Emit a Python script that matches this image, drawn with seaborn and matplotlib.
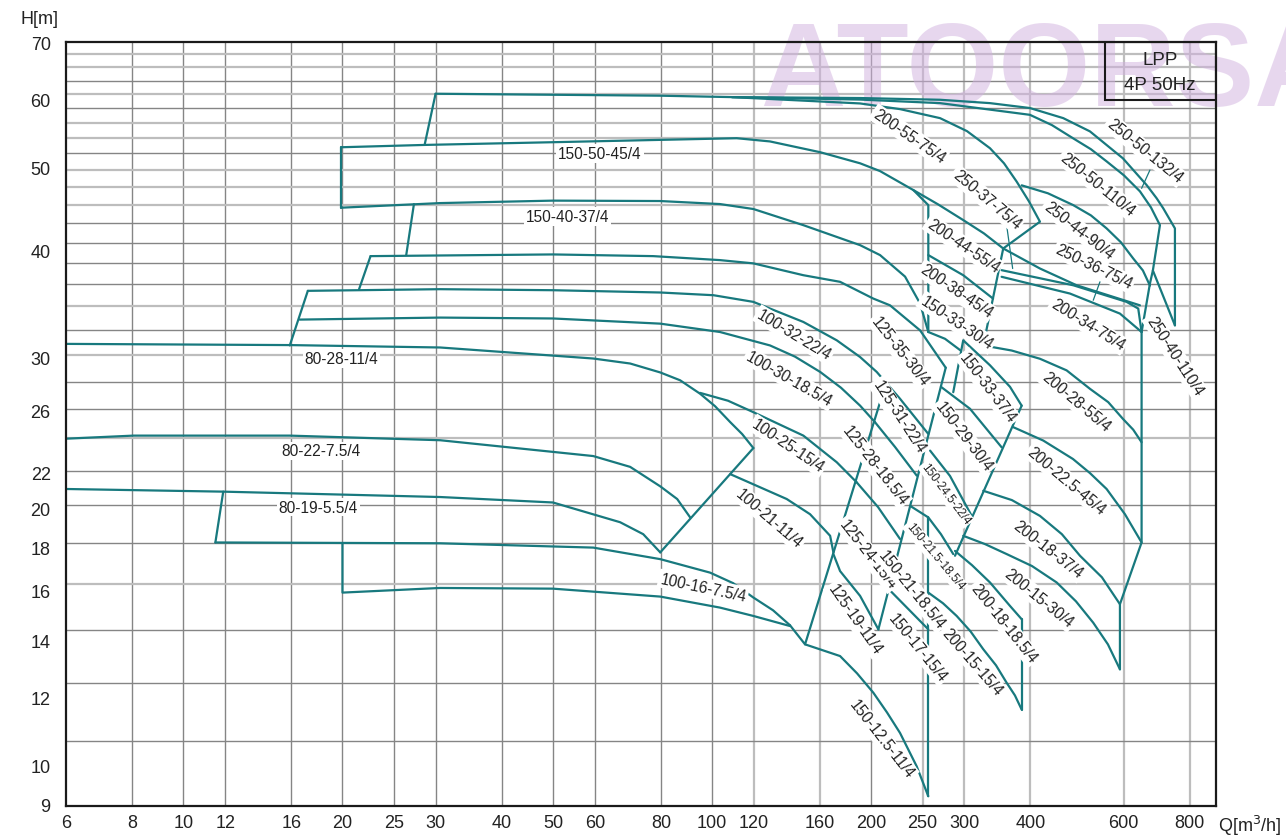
import matplotlib
matplotlib.use("Agg")
import matplotlib.pyplot as plt
import pandas as pd
import seaborn as sns
from matplotlib.patches import Rectangle
from matplotlib.ticker import NullLocator

sns.set_theme(style="white")
plt.rcParams['font.family'] = ['Liberation Sans', 'DejaVu Sans']

TEAL = "#18797e"

# ---------------- axes ----------------
x_ticks = [6, 8, 10, 12, 16, 20, 25, 30, 40, 50, 60, 80, 100, 120, 160, 200, 250, 300, 400, 600, 800]
y_ticks = [9, 10, 12, 14, 16, 18, 20, 22, 26, 30, 40, 50, 60, 70]
x_grid_light = [120, 160, 250, 300, 400, 600, 800]
h_grid_dark = [63.1, 58.6, 51.9, 43.0, 40.8, 38.7, 36.5, 32.3, 28.1, 26.1, 22.1, 20.15, 18.2, 14.4, 12.5, 10.7]
h_grid_light = [67.8, 65.5, 60.95, 56.3, 54.1, 49.65, 47.4, 45.2, 34.4, 30.2, 24.15, 16.3]

# ---------------- 80 / 100 series ----------------
q_80_28 = [6.0, 15.9, 30.6, 59.6, 70.0, 79.8, 87.0, 94.9, 101.3, 108.2, 114.0, 119.7]
h_80_28 = [31.1, 31.0, 30.8, 29.9, 29.5, 28.8, 28.2, 27.2, 26.3, 25.2, 24.4, 23.5]
q_80_22 = [6.0, 8.05, 15.9, 30.6, 59.6, 70.0, 79.8, 85.9, 90.9]
h_80_22 = [24.1, 24.3, 24.3, 24.0, 23.0, 22.34, 21.2, 20.49, 19.5]
q_80_19 = [6.0, 11.9, 30.6, 50.0, 67.0, 74.1, 79.8]
h_80_19 = [21.05, 20.9, 20.6, 20.3, 19.25, 18.64, 17.75]
q_80_limit = [119.7, 79.8]
h_80_limit = [23.5, 17.75]
q_80_19_min = [11.9, 11.5]
h_80_19_min = [20.9, 18.23]

q_100_16_max = [11.5, 30.6, 59.6, 79.8, 99.1, 109.6, 119.7, 130.4, 140.4]
h_100_16_max = [18.23, 18.19, 17.98, 17.43, 16.81, 16.34, 15.72, 15.19, 14.59]
q_100_16_min = [20.0, 20.0, 30.6, 50.0, 79.8, 103.5, 119.7, 140.4]
h_100_16_min = [18.19, 15.93, 16.13, 16.1, 15.76, 15.3, 14.96, 14.56]
q_100_limit = [140.4, 149.9, 213.3]
h_100_limit = [14.59, 13.86, 28.0]

q_100_32_left = [15.9, 17.2]
h_100_32_left = [30.97, 35.87]
q_100_32 = [17.2, 30.6, 50.0, 79.8, 100.6, 119.7, 148.8, 172.1, 190.5, 204.8, 226.7, 256.4]
h_100_32 = [35.87, 36.03, 35.93, 35.71, 35.45, 34.82, 32.99, 31.4, 30.02, 28.84, 26.83, 24.41]
q_100_30 = [16.6, 30.6, 50.0, 79.8, 103.5, 128.7, 143.5, 160.1, 175.3, 190.5, 203.3]
h_100_30 = [33.2, 33.38, 33.3, 32.84, 32.11, 30.97, 30.05, 28.84, 27.64, 26.34, 25.19]
q_100_25 = [94.9, 107.2, 119.7, 148.8, 172.1, 187.7]
h_100_25 = [27.26, 26.69, 25.88, 24.3, 22.62, 21.43]
q_100_21 = [108.2, 138.4, 153.2, 167.2, 169.6]
h_100_21 = [21.91, 20.49, 19.67, 18.56, 17.75]

# ---------------- 125 series ----------------
q_125_31 = [203.3, 221.8, 243.8]
h_125_31 = [25.19, 23.57, 21.82]
q_125_28 = [187.7, 206.0, 226.7]
h_125_28 = [21.43, 20.05, 18.4]
q_125_24 = [169.6, 174.6, 190.5, 206.3]
h_125_24 = [17.67, 16.88, 15.79, 14.43]
q_125_limit = [276.6, 206.3]
h_125_limit = [29.17, 14.43]

# ---------------- 150 series ----------------
q_150_50 = [19.9, 28.6, 50.0, 111.3, 128.7, 160.1, 190.5, 207.8, 240.2, 267.4, 298.5, 326.7, 355.3]
h_150_50 = [52.78, 53.11, 53.5, 54.08, 53.61, 52.08, 50.55, 49.5, 47.04, 45.27, 43.39, 41.86, 40.2]
q_150_50_min = [19.9, 19.9]
h_150_50_min = [52.78, 44.86]
q_150_40 = [19.9, 30.6, 50.0, 79.8, 103.5, 119.7, 148.8, 190.5, 207.8, 231.7, 247.4, 256.4]
h_150_40 = [44.86, 45.42, 45.72, 45.67, 45.3, 44.7, 42.8, 40.56, 39.49, 37.27, 34.66, 32.11]
q_125_35 = [22.6, 50.0, 77.4, 103.5, 119.7, 148.8, 174.6, 201.8, 217.0, 247.4, 276.6]
h_125_35 = [39.38, 39.56, 39.38, 38.96, 38.62, 37.41, 36.75, 35.13, 34.5, 32.25, 29.17]
q_left_a = [28.6, 30.0]
h_left_a = [53.11, 60.95]
q_left_b = [27.3, 26.4]
h_left_b = [45.3, 39.49]
q_left_c = [22.6, 21.5]
h_left_c = [39.38, 36.03]
q_150_33_30 = [256.4, 275.7, 295.6]
h_150_33_30 = [32.11, 31.53, 30.53]
q_150_33_37 = [285.8, 298.5, 335.4, 365.9, 385.0]
h_150_33_37 = [27.31, 31.4, 29.36, 27.71, 26.34]
q_150_29 = [270.9, 307.4, 352.8]
h_150_29 = [27.71, 26.12, 23.55]
q_150_24 = [258.4, 281.8, 309.7]
h_150_24 = [23.34, 21.8, 19.58]
q_150_21 = [236.8, 256.4, 270.9, 285.8]
h_150_21 = [20.12, 19.5, 18.64, 17.67]
q_150_17 = [216.0, 256.4]
h_150_17 = [16.07, 14.43]
q_150_12 = [149.9, 174.6, 188.0, 201.8, 214.2, 226.7, 243.8, 256.4]
h_150_12 = [13.86, 13.43, 12.82, 12.17, 11.54, 10.92, 9.98, 9.21]
q_150_limit = [256.4, 256.4]
h_150_limit = [19.5, 9.21]
q_150_mid_limit = [385.0, 288.0]
h_150_mid_limit = [26.34, 17.59]

# ---------------- 200 series ----------------
q_200_left = [240.2, 256.4, 256.4]
h_200_left = [47.04, 45.17, 32.11]
q_200_38 = [256.4, 298.5, 339.9]
h_200_38 = [39.49, 37.41, 35.13]
q_200_upper_limit = [355.3, 325.7]
h_200_upper_limit = [40.2, 30.97]
q_200_28 = [325.7, 368.6, 416.9, 468.3, 518.3, 561.2, 598.3, 625.8, 649.0]
h_200_28 = [30.97, 30.55, 29.88, 28.96, 27.56, 26.59, 25.42, 24.69, 23.87]
q_200_22 = [371.1, 422.9, 481.3, 518.3, 557.3, 603.6, 649.0]
h_200_22 = [24.86, 23.98, 22.82, 21.97, 21.05, 19.67, 18.23]
q_200_18_37 = [325.7, 369.0, 416.9, 458.7, 496.3, 546.0, 590.6]
h_200_18_37 = [20.95, 20.43, 19.58, 18.64, 17.59, 16.6, 15.44]
q_200_15_30 = [298.5, 328.2, 360.6, 402.7, 448.4, 487.7, 525.8, 560.5, 590.6]
h_200_15_30 = [18.56, 18.15, 17.67, 17.11, 16.37, 15.56, 14.69, 13.86, 12.96]
q_200_18_18 = [288.0, 310.1, 335.4, 365.9, 385.0]
h_200_18_18 = [17.82, 17.15, 16.37, 15.37, 14.83]
q_200_15_15 = [256.4, 273.3, 290.1, 308.2, 325.7, 344.3, 360.6, 373.9, 385.0]
h_200_15_15 = [15.93, 15.48, 14.96, 14.35, 13.68, 13.1, 12.5, 12.08, 11.63]
q_200_low_limit = [385.0, 385.0]
h_200_low_limit = [14.83, 11.63]
q_200_right = [649.0, 649.0, 590.6, 590.6]
h_200_right = [32.11, 18.23, 15.44, 12.96]

# ---------------- 250 series / top ----------------
q_250_50_132 = [30.0, 79.8, 109.0, 190.5, 269.8, 335.4, 399.1, 461.4, 518.3, 598.3, 663.3, 692.8, 713.1, 750.4, 750.4]
h_250_50_132 = [60.95, 60.63, 60.4, 60.25, 59.97, 59.43, 58.65, 57.08, 55.08, 51.23, 47.68, 46.02, 44.79, 42.43, 32.69]
q_250_50_110 = [109.0, 190.5, 269.8, 399.1, 439.2, 481.3, 520.5, 558.0, 600.9, 644.3, 675.9, 703.0, 681.7, 673.0, 649.0]
h_250_50_110 = [60.4, 60.0, 59.43, 57.59, 56.02, 54.08, 52.5, 50.78, 48.94, 46.88, 44.9, 42.8, 37.89, 36.58, 32.11]
q_250_40 = [681.7, 750.4]
h_250_40 = [37.89, 32.69]
q_200_55 = [109.0, 190.5, 226.7, 269.8, 303.4, 335.4, 356.5, 376.7, 397.4, 416.9, 355.3]
h_200_55 = [60.4, 59.38, 58.48, 57.08, 55.12, 52.64, 50.55, 48.12, 45.63, 43.2, 40.2]
q_250_44 = [385.0, 431.7, 482.0, 520.5, 557.3, 593.2, 625.8, 652.7, 673.0]
h_250_44 = [47.64, 46.63, 45.17, 43.94, 42.43, 40.87, 39.13, 37.89, 36.38]
q_250_37 = [355.3, 416.9, 489.1, 644.3]
h_250_37 = [40.2, 38.09, 36.41, 34.5]
q_250_36 = [352.8, 482.0, 608.0, 639.6, 649.0]
h_250_36 = [37.92, 36.41, 34.82, 34.2, 32.11]
q_200_34 = [352.8, 475.0, 590.6, 649.0]
h_200_34 = [37.25, 35.61, 33.74, 32.11]

# leader lines
q_lead_a = [360.6, 370.2]
h_lead_a = [42.8, 38.09]
q_lead_b = [541.4, 525.8]
h_lead_b = [36.75, 34.97]
q_lead_c = [673.0, 649.0]
h_lead_c = [49.64, 47.26]

# labels: text, Q, H, rotation
lab_text = ["150-50-45/4", "150-40-37/4", "80-28-11/4", "80-22-7.5/4", "80-19-5.5/4",
            "100-16-7.5/4", "100-32-22/4", "100-30-18.5/4", "100-25-15/4", "100-21-11/4",
            "125-35-30/4", "125-31-22/4", "125-28-18.5/4", "125-24-15/4", "125-19-11/4",
            "150-12.5-11/4", "150-33-37/4", "150-29-30/4", "150-24.5-22/4", "150-21.5-18.5/4",
            "150-21-18.5/4", "150-17-15/4", "200-15-15/4", "200-18-18.5/4", "200-15-30/4",
            "200-18-37/4", "200-22.5-45/4", "200-28-55/4", "150-33-30/4", "200-38-45/4",
            "200-44-55/4", "200-34-75/4", "250-36-75/4", "250-44-90/4", "250-37-75/4",
            "200-55-75/4", "250-50-110/4", "250-50-132/4", "250-40-110/4"]
lab_q = [61.4, 53.2, 19.9, 18.2, 18.0,
         96.2, 142.9, 139.8, 139.2, 128.2,
         226.7, 225.7, 203.3, 197.2, 186.4,
         209.6, 332.5, 299.5, 276.9, 264.0,
         238.8, 245.2, 310.1, 356.5, 415.1,
         431.7, 468.3, 487.7, 290.2, 289.3,
         298.2, 513.8, 527.4, 494.1, 330.6,
         235.7, 535.5, 658.4, 750.4]
lab_h = [51.95, 43.82, 29.88, 23.32, 20.05,
         16.16, 31.88, 28.31, 23.65, 19.46,
         30.5, 25.56, 22.45, 17.67, 14.83,
         10.75, 27.64, 24.25, 20.77, 17.57,
         16.07, 13.75, 13.24, 14.67, 15.69,
         17.9, 21.52, 26.61, 32.93, 35.85,
         40.52, 32.75, 38.3, 42.23, 45.88,
         54.45, 47.77, 52.3, 30.15]
lab_rot = [0, 0, 0, 0, 0,
           -12, -31, -29.5, -34, -40.5,
           -52, -57, -52, -52, -55,
           -52, -53, -52.5, -53, -50,
           -51, -51, -49, -51.5, -39,
           -38, -40, -40, -34, -34,
           -34, -32, -26, -38, -40,
           -34.5, -39, -39, -57]
lab_small = {"150-24.5-22/4", "150-21.5-18.5/4"}

segments = [
    (q_80_28, h_80_28), (q_80_22, h_80_22), (q_80_19, h_80_19), (q_80_limit, h_80_limit),
    (q_80_19_min, h_80_19_min), (q_100_16_max, h_100_16_max), (q_100_16_min, h_100_16_min),
    (q_100_limit, h_100_limit), (q_100_32_left, h_100_32_left), (q_100_32, h_100_32),
    (q_100_30, h_100_30), (q_100_25, h_100_25), (q_100_21, h_100_21),
    (q_125_31, h_125_31), (q_125_28, h_125_28), (q_125_24, h_125_24), (q_125_limit, h_125_limit),
    (q_150_50, h_150_50), (q_150_50_min, h_150_50_min), (q_150_40, h_150_40), (q_125_35, h_125_35),
    (q_left_a, h_left_a), (q_left_b, h_left_b), (q_left_c, h_left_c),
    (q_150_33_30, h_150_33_30), (q_150_33_37, h_150_33_37), (q_150_29, h_150_29),
    (q_150_24, h_150_24), (q_150_21, h_150_21), (q_150_17, h_150_17), (q_150_12, h_150_12),
    (q_150_limit, h_150_limit), (q_150_mid_limit, h_150_mid_limit),
    (q_200_left, h_200_left), (q_200_38, h_200_38), (q_200_upper_limit, h_200_upper_limit),
    (q_200_28, h_200_28), (q_200_22, h_200_22), (q_200_18_37, h_200_18_37),
    (q_200_15_30, h_200_15_30), (q_200_18_18, h_200_18_18), (q_200_15_15, h_200_15_15),
    (q_200_low_limit, h_200_low_limit), (q_200_right, h_200_right),
    (q_250_50_132, h_250_50_132), (q_250_50_110, h_250_50_110), (q_250_40, h_250_40),
    (q_200_55, h_200_55), (q_250_44, h_250_44), (q_250_37, h_250_37), (q_250_36, h_250_36),
    (q_200_34, h_200_34),
]
leaders = [(q_lead_a, h_lead_a), (q_lead_b, h_lead_b), (q_lead_c, h_lead_c)]


def to_frame(parts):
    frames = []
    for i, (q, h) in enumerate(parts):
        frames.append(pd.DataFrame({"Q": q, "H": h, "seg": i, "order": range(len(q))}))
    return pd.concat(frames, ignore_index=True)


df = to_frame(segments)
df_lead = to_frame(leaders)

fig = plt.figure(figsize=(12.86, 8.37), dpi=100)
ax = fig.add_axes([0.0513, 0.0362, 0.894, 0.9121])
ax.set_xscale("log")
ax.set_yscale("log")
ax.set_xlim(6, 896)
ax.set_ylim(8.98, 70)

# grid
for v in x_ticks[1:]:
    light = v in x_grid_light
    ax.axvline(v, color="#bdbdbd" if light else "#858585", lw=1.6 if light else 1.0, zorder=1)
for v in h_grid_dark:
    ax.axhline(v, color="#858585", lw=1.0, zorder=1)
for v in h_grid_light:
    ax.axhline(v, color="#bdbdbd", lw=1.6, zorder=1)

sns.lineplot(data=df, x="Q", y="H", units="seg", estimator=None, sort=False,
             color=TEAL, linewidth=1.6, ax=ax, legend=False, zorder=3)
sns.lineplot(data=df_lead, x="Q", y="H", units="seg", estimator=None, sort=False,
             color=TEAL, linewidth=0.9, ax=ax, legend=False, zorder=3)

for t, q, h, r in zip(lab_text, lab_q, lab_h, lab_rot):
    small = t in lab_small
    ax.text(q, h, t, rotation=r, rotation_mode="anchor", ha="center", va="center",
            fontsize=8.5 if small else 11.2, color="#222222", zorder=4,
            bbox=dict(boxstyle="square,pad=0.12", fc="white", ec="none"))

ax.set_xticks(x_ticks)
ax.set_xticklabels([str(v) for v in x_ticks])
ax.set_yticks(y_ticks)
ax.set_yticklabels([str(v) for v in y_ticks])
ax.xaxis.set_minor_locator(NullLocator())
ax.yaxis.set_minor_locator(NullLocator())
ax.tick_params(axis="both", length=0, labelsize=13, colors="#222222")
ax.tick_params(axis="x", pad=6)
ax.tick_params(axis="y", pad=11)
ax.set_xlabel("")
ax.set_ylabel("")
for s in ax.spines.values():
    s.set_color("#1a1a1a")
    s.set_linewidth(1.6)
    s.set_zorder(6)

# type box
ax.add_patch(Rectangle((0.9037, 0.9244), 0.0963, 0.0756, transform=ax.transAxes,
                       fill=False, ec="#1a1a1a", lw=1.5, zorder=6))
ax.text(0.9516, 0.977, "LPP", transform=ax.transAxes, ha="center", va="center",
        fontsize=13.5, color="#222222", zorder=6)
ax.text(0.9516, 0.945, "4P 50Hz", transform=ax.transAxes, ha="center", va="center",
        fontsize=13.5, color="#222222", zorder=6)

# watermark
ax.text(760 / 1286, 1 - 106 / 837, "ATOORSA", transform=fig.transFigure, ha="left", va="baseline",
        fontsize=85, fontweight="bold", color="#d1b1df", alpha=0.5, zorder=2, clip_on=False)

fig.text(39 / 1286, 1 - 20 / 837, "H[m]", ha="center", va="center", fontsize=13, color="#222222")
fig.text(1250 / 1286, 1 - 826 / 837, "Q[m$^3$/h]", ha="center", va="center", fontsize=13, color="#222222")

fig.savefig("out.png", dpi=100)
